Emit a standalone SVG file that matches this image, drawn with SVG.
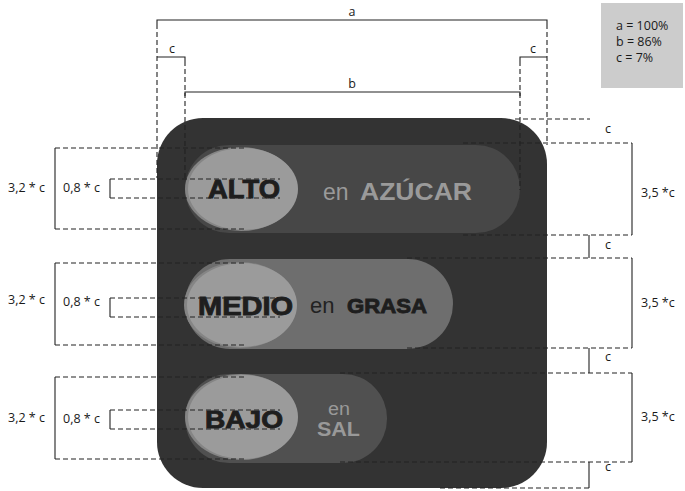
<svg xmlns="http://www.w3.org/2000/svg" width="685" height="491" viewBox="0 0 685 491">
<style>
.dim{font-family:"Open Sans","Liberation Sans",sans-serif;font-size:12.5px;fill:#1a1a1a}
.big{font-family:"Liberation Sans",Arial,sans-serif;font-weight:bold}
.blk{fill:#1e1e1e;stroke:#1e1e1e;stroke-width:0.9}
.sol{stroke:#222;stroke-width:1.1;fill:none}
.dsh{stroke:#222;stroke-width:1.1;fill:none;stroke-dasharray:5,3}
.ring{fill:#858585}
.disc{fill:#9b9b9b}
</style>
<rect width="685" height="491" fill="#fff"/>
<g id="legend">
<rect x="601" y="3" width="82" height="85" fill="#cccccc"/>
<text class="dim" x="616" y="30" font-size="12">a = 100%</text>
<text class="dim" x="616" y="46" font-size="12">b = 86%</text>
<text class="dim" x="616" y="62" font-size="12">c = 7%</text>
</g>
<g id="box">
<rect x="157" y="118" width="390" height="370" rx="46" fill="#333333"/>
</g>
<g id="row-alto">
<rect x="185" y="145" width="335" height="88" rx="44" fill="#474747"/>
<ellipse class="ring" cx="241" cy="189" rx="56" ry="42"/>
<ellipse class="disc" cx="243" cy="189" rx="55" ry="41"/>
<text class="big blk" x="208" y="198" font-size="25" textLength="72" lengthAdjust="spacingAndGlyphs">ALTO</text>
<text x="323" y="200" font-family="Liberation Sans,Arial,sans-serif" font-size="23" fill="#9a9a9a">en</text>
<text class="big" x="360" y="200" font-size="24" fill="#9a9a9a" textLength="112" lengthAdjust="spacingAndGlyphs">AZÚCAR</text>
</g>
<g id="row-medio">
<rect x="185" y="259" width="268" height="90" rx="45" fill="#6e6e6e"/>
<ellipse class="ring" cx="240" cy="305" rx="56" ry="43"/>
<ellipse class="disc" cx="242" cy="305" rx="55" ry="42"/>
<text class="big blk" x="198" y="315" font-size="25" textLength="95" lengthAdjust="spacingAndGlyphs">MEDIO</text>
<text x="310" y="313" font-family="Liberation Sans,Arial,sans-serif" font-size="22" fill="#222">en</text>
<text class="big blk" x="347" y="313" font-size="21" stroke-width="0.6" textLength="80" lengthAdjust="spacingAndGlyphs">GRASA</text>
</g>
<g id="row-bajo">
<rect x="185" y="374" width="202" height="89" rx="44" fill="#505050"/>
<ellipse class="ring" cx="241" cy="417" rx="56" ry="43"/>
<ellipse class="disc" cx="243" cy="417" rx="55" ry="42"/>
<text class="big blk" x="205" y="428" font-size="24" textLength="78" lengthAdjust="spacingAndGlyphs">BAJO</text>
<text x="328" y="415" font-family="Liberation Sans,Arial,sans-serif" font-size="18" fill="#999" textLength="22" lengthAdjust="spacingAndGlyphs">en</text>
<text class="big" x="317" y="436" font-size="20" fill="#999" textLength="43" lengthAdjust="spacingAndGlyphs">SAL</text>
</g>
<g id="connectors">
<path class="sol" d="M157,24 V20 H547 V24"/>
<path class="dsh" d="M157,24 V178 M547,24 V145"/>
<text class="dim" x="352" y="16" font-size="14" text-anchor="middle">a</text>
<path class="sol" d="M157,57 H185 V61 M520,61 V57 H547"/>
<path class="dsh" d="M185,61 V178 M520,61 V190"/>
<text class="dim" x="172" y="53" font-size="14" text-anchor="middle">c</text>
<text class="dim" x="533" y="53" font-size="14" text-anchor="middle">c</text>
<path class="sol" d="M185,96 V92 H520 V96"/>
<text class="dim" x="352" y="88" font-size="14" text-anchor="middle">b</text>
<path class="dsh" d="M515,119 H590"/>
<text class="dim" x="608" y="133" text-anchor="middle">c</text>
<path class="dsh" d="M463,143 H632 M463,235 H632"/>
<path class="sol" d="M632,143 V235"/>
<text class="dim" x="641" y="197">3,5 *c</text>
<path class="sol" d="M589,235 V258"/>
<text class="dim" x="608" y="249" text-anchor="middle">c</text>
<path class="dsh" d="M407,258 H632 M407,348 H632"/>
<path class="sol" d="M632,258 V348"/>
<text class="dim" x="641" y="307">3,5 *c</text>
<path class="sol" d="M589,348 V373"/>
<text class="dim" x="608" y="361" text-anchor="middle">c</text>
<path class="dsh" d="M340,373 H632 M340,462 H632"/>
<path class="sol" d="M632,373 V462"/>
<text class="dim" x="641" y="421">3,5 *c</text>
<path class="sol" d="M589,462 V488"/>
<path class="dsh" d="M440,488 H589"/>
<text class="dim" x="608" y="471" text-anchor="middle">c</text>
<path class="dsh" d="M55,148 H247 M55,229 H247"/>
<path class="sol" d="M55,148 V229"/>
<path class="dsh" d="M110,179 H280 M110,198 H280"/>
<path class="sol" d="M110,179 V198"/>
<text class="dim" x="8" y="192">3,2 * c</text>
<text class="dim" x="63" y="192">0,8 * c</text>
<path class="dsh" d="M55,263 H247 M55,345 H247"/>
<path class="sol" d="M55,263 V345"/>
<path class="dsh" d="M110,298 H280 M110,317 H280"/>
<path class="sol" d="M110,298 V317"/>
<text class="dim" x="8" y="304">3,2 * c</text>
<text class="dim" x="63" y="306">0,8 * c</text>
<path class="dsh" d="M55,377 H247 M55,459 H247"/>
<path class="sol" d="M55,377 V459"/>
<path class="dsh" d="M110,410 H280 M110,429 H280"/>
<path class="sol" d="M110,410 V429"/>
<text class="dim" x="8" y="422">3,2 * c</text>
<text class="dim" x="63" y="423">0,8 * c</text>
</g>
</svg>
